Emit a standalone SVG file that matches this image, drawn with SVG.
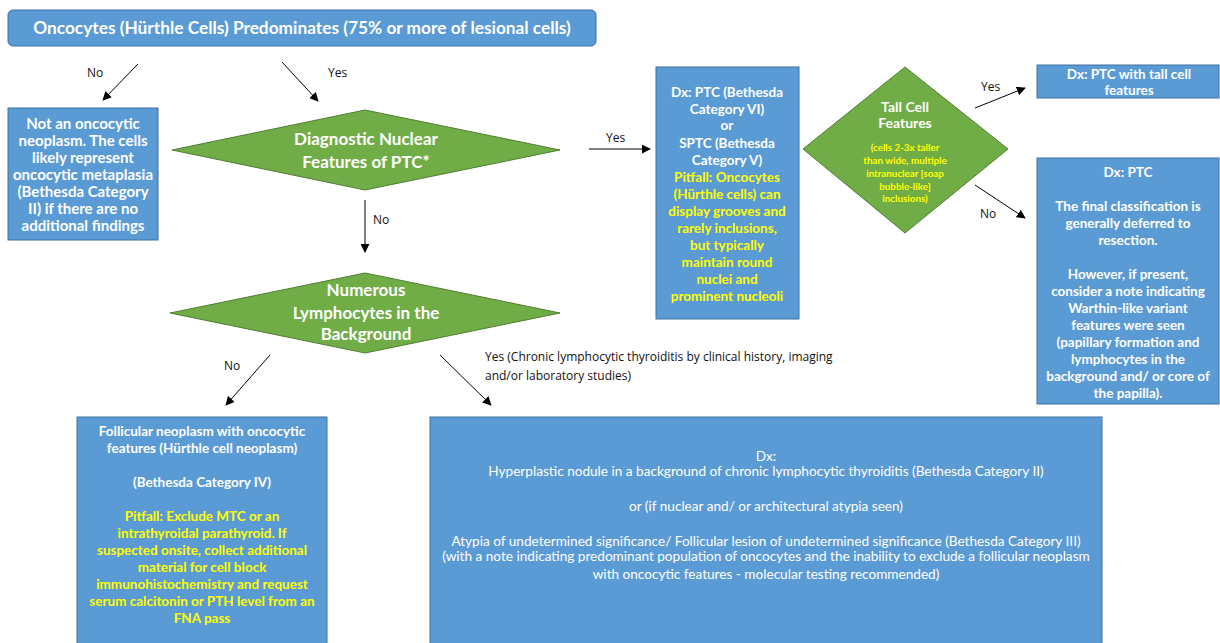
<svg xmlns="http://www.w3.org/2000/svg" width="1220" height="643" viewBox="0 0 1220 643">
<defs>
<marker id="ah" viewBox="0 0 10 10" refX="9" refY="5" markerWidth="9" markerHeight="9" markerUnits="userSpaceOnUse" orient="auto">
<path d="M0,0 L10,5 L0,10 z" fill="#000"/>
</marker>
<style>
.box{fill:#5b9bd5;stroke:#41719c;stroke-width:1}
.dia{fill:#70ad47;stroke:#507e32;stroke-width:1}
.t{font-family:Lato,"Liberation Sans",sans-serif;font-weight:bold;fill:#fff;text-anchor:middle;font-size:13.5px}
.y{fill:#ffff00}
.r{font-family:Lato,"Liberation Sans",sans-serif;font-weight:normal;fill:#fff;text-anchor:middle;font-size:13.6px}
.lab{font-family:"Open Sans","Liberation Sans",sans-serif;font-size:12px;fill:#111}
.c{stroke:#000;stroke-width:1;fill:none;marker-end:url(#ah)}
</style>
</defs>
<rect width="1220" height="643" fill="#fff"/>

<g id="top">
<rect class="box" x="8" y="10" width="588" height="36" rx="5"/>
<text class="t" x="302" y="34" style="font-size:17.3px">Oncocytes (Hürthle Cells) Predominates (75% or more of lesional cells)</text>
</g>

<g id="not-oncocytic">
<rect class="box" x="8" y="108" width="150" height="132"/>
<text class="t" x="83" y="129" style="font-size:15px">Not an oncocytic</text>
<text class="t" x="83" y="146" style="font-size:15px">neoplasm. The cells</text>
<text class="t" x="83" y="163" style="font-size:15px">likely represent</text>
<text class="t" x="83" y="180" style="font-size:15px">oncocytic metaplasia</text>
<text class="t" x="83" y="197" style="font-size:15px">(Bethesda Category</text>
<text class="t" x="83" y="214" style="font-size:15px">II) if there are no</text>
<text class="t" x="83" y="231" style="font-size:15px">additional findings</text>
</g>

<g id="diag-nuclear">
<polygon class="dia" points="172,150 365,110 560,150 365,190"/>
<text class="t" x="366" y="145" style="font-size:17px">Diagnostic Nuclear</text>
<text class="t" x="366" y="168" style="font-size:17px">Features of PTC*</text>
</g>

<g id="numerous-lymph">
<polygon class="dia" points="170,313 365,273 560,313 365,353"/>
<text class="t" x="366" y="296" style="font-size:17px">Numerous</text>
<text class="t" x="366" y="319" style="font-size:17px">Lymphocytes in the</text>
<text class="t" x="366" y="340" style="font-size:17px">Background</text>
</g>

<g id="ptc-box">
<rect class="box" x="656" y="67" width="143" height="252"/>
<text class="t" x="727" y="97">Dx: PTC (Bethesda</text>
<text class="t" x="727" y="114">Category VI)</text>
<text class="t" x="727" y="130">or</text>
<text class="t" x="727" y="148">SPTC (Bethesda</text>
<text class="t" x="727" y="165">Category V)</text>
<text class="t y" x="727" y="182">Pitfall: Oncocytes</text>
<text class="t y" x="727" y="199">(Hürthle cells) can</text>
<text class="t y" x="727" y="216">display grooves and</text>
<text class="t y" x="727" y="233">rarely inclusions,</text>
<text class="t y" x="727" y="250">but typically</text>
<text class="t y" x="727" y="267">maintain round</text>
<text class="t y" x="727" y="284">nuclei and</text>
<text class="t y" x="727" y="301">prominent nucleoli</text>
</g>

<g id="tall-cell">
<polygon class="dia" points="803,149 905,67 1008,149 905,233"/>
<text class="t" x="905" y="112" style="font-size:14px">Tall Cell</text>
<text class="t" x="905" y="128" style="font-size:14px">Features</text>
<text class="t y" x="905" y="150.5" style="font-size:9.8px">(cells 2-3x taller</text>
<text class="t y" x="905" y="163.5" style="font-size:9.8px">than wide, multiple</text>
<text class="t y" x="905" y="176.5" style="font-size:9.8px">intranuclear [soap</text>
<text class="t y" x="905" y="189.5" style="font-size:9.8px">bubble-like]</text>
<text class="t y" x="905" y="202" style="font-size:9.8px">inclusions)</text>
</g>

<g id="tall-cell-dx">
<rect class="box" x="1037" y="65" width="182" height="33"/>
<text class="t" x="1129" y="79">Dx: PTC with tall cell</text>
<text class="t" x="1129" y="95">features</text>
</g>

<g id="ptc-dx">
<rect class="box" x="1037" y="158" width="182" height="246"/>
<text class="t" x="1128" y="177">Dx: PTC</text>
<text class="t" x="1128" y="211">The final classification is</text>
<text class="t" x="1128" y="228">generally deferred to</text>
<text class="t" x="1128" y="245">resection.</text>
<text class="t" x="1128" y="279">However, if present,</text>
<text class="t" x="1128" y="296">consider a note indicating</text>
<text class="t" x="1128" y="313">Warthin-like variant</text>
<text class="t" x="1128" y="330">features were seen</text>
<text class="t" x="1128" y="347">(papillary formation and</text>
<text class="t" x="1128" y="364">lymphocytes in the</text>
<text class="t" x="1128" y="381">background and/ or core of</text>
<text class="t" x="1128" y="398">the papilla).</text>
</g>

<g id="follicular">
<rect class="box" x="77" y="417" width="250" height="240"/>
<text class="t" x="202" y="436">Follicular neoplasm with oncocytic</text>
<text class="t" x="202" y="453">features (Hürthle cell neoplasm)</text>
<text class="t" x="202" y="487">(Bethesda Category IV)</text>
<text class="t y" x="202" y="521">Pitfall: Exclude MTC or an</text>
<text class="t y" x="202" y="538">intrathyroidal parathyroid. If</text>
<text class="t y" x="202" y="555">suspected onsite, collect additional</text>
<text class="t y" x="202" y="572">material for cell block</text>
<text class="t y" x="202" y="589">immunohistochemistry and request</text>
<text class="t y" x="202" y="606">serum calcitonin or PTH  level from an</text>
<text class="t y" x="202" y="623">FNA pass</text>
</g>

<g id="hyperplastic">
<rect class="box" x="430" y="417" width="672" height="240"/>
<text class="r" x="766" y="461">Dx:</text>
<text class="r" x="766" y="476">Hyperplastic nodule in a background of chronic lymphocytic thyroiditis (Bethesda Category II)</text>
<text class="r" x="766" y="511">or (if nuclear and/ or architectural atypia seen)</text>
<text class="r" x="766" y="546">Atypia of undetermined significance/ Follicular lesion of undetermined significance (Bethesda Category III)</text>
<text class="r" x="766" y="561">(with a note indicating predominant population of oncocytes and the inability to exclude a follicular neoplasm</text>
<text class="r" x="766" y="579">with oncocytic features  - molecular testing recommended)</text>
</g>

<g id="connectors">
<line class="c" x1="138" y1="64" x2="103" y2="100"/>
<line class="c" x1="282" y1="62" x2="318" y2="101"/>
<line class="c" x1="589" y1="149" x2="650" y2="149"/>
<line class="c" x1="365" y1="200" x2="365" y2="252"/>
<line class="c" x1="270" y1="355" x2="226" y2="405"/>
<line class="c" x1="440" y1="355" x2="491" y2="405"/>
<line class="c" x1="975" y1="108" x2="1025" y2="88"/>
<line class="c" x1="975" y1="185" x2="1025" y2="218"/>
<text class="lab" x="87" y="77">No</text>
<text class="lab" x="328" y="77">Yes</text>
<text class="lab" x="606" y="142">Yes</text>
<text class="lab" x="373" y="224">No</text>
<text class="lab" x="224" y="370">No</text>
<text class="lab" x="485" y="361">Yes (Chronic lymphocytic thyroiditis by clinical history, imaging</text>
<text class="lab" x="485" y="380">and/or laboratory studies)</text>
<text class="lab" x="981" y="91">Yes</text>
<text class="lab" x="980" y="218">No</text>
</g>
</svg>
